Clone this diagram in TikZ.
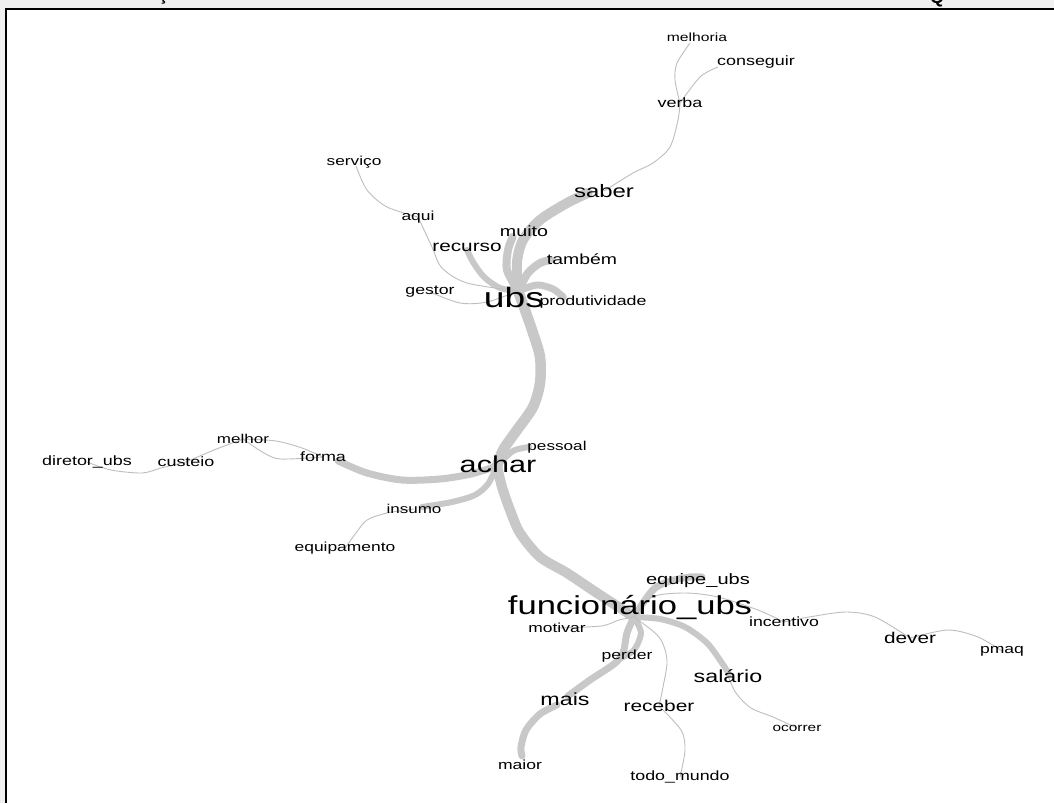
\documentclass[tikz,border=0pt]{standalone}
\usepackage{fontspec}
\setmainfont{Liberation Sans}
\usetikzlibrary{calc}
\pgfdeclarelayer{bg}
\pgfdeclarelayer{edges}
\pgfsetlayers{bg,edges,main}
\definecolor{edgegray}{RGB}{200,200,200}
\definecolor{thingray}{RGB}{190,190,190}
\definecolor{pagegray}{RGB}{240,240,240}
\begin{document}
\begin{tikzpicture}[x=1pt,y=-1pt,
  w/.style={font=\fontsize{#1}{#1}\selectfont, xscale=1.33, inner sep=0pt, text=black},
  band/.style={draw=edgegray, line width=#1, line cap=round, line join=round},
  fine/.style={draw=thingray, line width=0.9pt}]
\useasboundingbox (0,0) rectangle (1054,803);
\begin{pgfonlayer}{bg}
  \fill[pagegray] (0,0) rectangle (1054,803);
  \fill[white] (5,9) rectangle (1054,803);
  \draw[line width=2pt] (5.5,803) -- (5.5,9) -- (1054,9);
\end{pgfonlayer}
\begin{scope}
  \clip (0,0) rectangle (1054,8);
  \node[font=\fontsize{18}{18}\selectfont\bfseries, anchor=base, inner sep=0pt] (capC) at (163,1) {Ç};
  \node[font=\fontsize{18}{18}\selectfont\bfseries, anchor=base, inner sep=0pt] (capQ) at (937,3) {Q};
\end{scope}

% ---- labels ----
\node[w=11.8] (melhoria) at (697,37) {melhoria};
\node[w=13.5] (conseguir) at (756,62) {conseguir};
\node[w=13.5] (verba) at (680,103) {verba};
\node[w=13] (servico) at (354,162) {serviço};
\node[w=18] (saber) at (604,191) {saber};
\node[w=13.1] (aqui) at (418,217) {aqui};
\node[w=14.8] (muito) at (524,231) {muito};
\node[w=15.6] (recurso) at (467,247) {recurso};
\node[w=14.6] (tambem) at (582,259) {também};
\node[w=13.3] (gestor) at (430,292) {gestor};
\node[w=28] (ubs) at (514,297) {ubs};
\node[w=13.4] (produtividade) at (593,302) {produtividade};
\node[w=12.8] (melhor) at (243,439) {melhor};
\node[w=12.9] (pessoal) at (557,447) {pessoal};
\node[w=13.5] (forma) at (323,457) {forma};
\node[w=13.5] (diretor) at (87,462) {diretor\_ubs};
\node[w=13.5] (custeio) at (186,462) {custeio};
\node[w=23] (achar) at (498,464) {achar};
\node[w=12.8] (insumo) at (414,509) {insumo};
\node[w=13.1] (equipamento) at (345,548) {equipamento};
\node[w=15.1] (equipe) at (698,581) {equipe\_ubs};
\node[w=26] (func) at (630,608) {funcionário\_ubs};
\node[w=13.1] (motivar) at (557,628) {motivar};
\node[w=13.3] (incentivo) at (784,622) {incentivo};
\node[w=15.6] (dever) at (910,638) {dever};
\node[w=13.2] (pmaq) at (1002,651) {pmaq};
\node[w=13.2] (perder) at (627,656) {perder};
\node[w=17.5] (salario) at (728,676) {salário};
\node[w=17.5] (mais) at (565,699) {mais};
\node[w=15.7] (receber) at (659,706) {receber};
\node[w=11.6] (ocorrer) at (797,728) {ocorrer};
\node[w=13.2] (maior) at (520,765) {maior};
\node[w=13.4] (todo) at (680,777) {todo\_mundo};

% hubs
\coordinate (U) at ($(ubs.center)+(4,-6)$);
\coordinate (A) at ($(achar.center)+(-1,2)$);
\coordinate (F) at ($(func.center)+(4,9)$);

\begin{pgfonlayer}{edges}
% thick bands
\draw[band=10.5] plot[smooth] coordinates {(U) (525,310) (533,333) (540,357) (540,383) (533,407) (517,430) (503,450) (A)};
\draw[band=10] plot[smooth] coordinates {(A) (502,487) (510,510) (520,533) (540,557) (567,573) (597,593) (F)};
\draw[band=10] plot[smooth] coordinates {(U) (517,262) (523,240) (540,220) (567,203) ($(saber.west)+(14,2)$)};
\draw[band=8] plot[smooth] coordinates {(U) (507,270) (508,250) ($(muito.west)+(13,6)$)};
\draw[band=8] plot[smooth] coordinates {(U) (528,273) (540,263) ($(tambem.west)+(4,1)$)};
\draw[band=7] plot[smooth] coordinates {(U) (537,285) (553,289) ($(produtividade.west)+(24,-5)$)};
\draw[band=6] plot[smooth] coordinates {($(recurso.center)+(0,3)$) (473,262) (484,277) (500,288) (U)};
\draw[band=7] plot[smooth] coordinates {(A) (471,474) (440,479) (402,480) (367,473) ($(forma.east)+(-8,4)$)};
\draw[band=6] plot[smooth] coordinates {(A) (488,484) (475,495) (452,502) ($(insumo.center)+(8,-2)$)};
\draw[band=6] plot[smooth] coordinates {(A) (513,451) ($(pessoal.west)+(2,0)$)};
\draw[band=7] plot[smooth] coordinates {(F) (645,600) (655,588) (670,581) (690,577) ($(equipe.center)+(4,-4)$)};
\draw[band=7] plot[smooth] coordinates {(F) (627,633) (623,653) (614,664) (590,680) ($(mais.center)+(3,-3)$)};
\draw[band=7] plot[smooth] coordinates {($(mais.center)+(-8,6)$) (540,714) (526,730) (521,747) ($(maior.north)+(2,-4)$)};
\draw[band=6] plot[smooth] coordinates {(F) (641,633) (634,650) ($(perder.center)+(-6,2)$)};
\draw[band=6] plot[smooth] coordinates {(F) (660,619) (685,627) (707,643) (722,663) ($(salario.center)+(1,-2)$)};
% thin connectors
\draw[fine] plot[smooth] coordinates {(saber.center) (633,173) (653,163) (670,147) (678,120) (verba.center)};
\draw[fine] plot[smooth] coordinates {(verba.center) (675,80) (677,63) ($(melhoria.center)+(-7,6)$)};
\draw[fine] plot[smooth] coordinates {(verba.center) (700,77) ($(conseguir.west)+(1,5)$)};
\draw[fine] plot[smooth] coordinates {($(servico.center)+(2,4)$) (367,190) (387,207) (aqui.center)};
\draw[fine] plot[smooth] coordinates {(aqui.center) (432,247) (442,268) (467,283) (U)};
\draw[fine] plot[smooth] coordinates {(gestor.center) (460,303) (487,302) (U)};
\draw[fine] plot[smooth] coordinates {(diretor.center) (111,470) (142,473) (161,468) (custeio.center)};
\draw[fine] plot[smooth] coordinates {(custeio.center) (214,450) (melhor.center)};
\draw[fine] plot[smooth] coordinates {(melhor.center) (276,441) (302,448) (forma.center)};
\draw[fine] plot[smooth] coordinates {(melhor.center) (264,453) (281,459) (forma.center)};
\draw[fine] plot[smooth] coordinates {(insumo.center) (387,513) (367,520) (356,533) (equipamento.center)};
\draw[fine] plot[smooth] coordinates {(F) (652,597) (685,593) (718,597) (758,610) (incentivo.center)};
\draw[fine] plot[smooth] coordinates {(incentivo.center) (809,617) (846,612) (875,617) (dever.center)};
\draw[fine] plot[smooth] coordinates {(dever.center) (948,630) (978,637) (pmaq.center)};
\draw[fine] plot[smooth] coordinates {(F) (619,620) (601,626) (motivar.center)};
\draw[fine] plot[smooth] coordinates {(F) (659,637) (667,660) (663,687) (receber.center)};
\draw[fine] plot[smooth] coordinates {(receber.center) (681,730) (685,750) (todo.center)};
\draw[fine] plot[smooth] coordinates {(salario.center) (736,693) (751,708) (773,717) (ocorrer.center)};
\end{pgfonlayer}
\end{tikzpicture}
\end{document}
